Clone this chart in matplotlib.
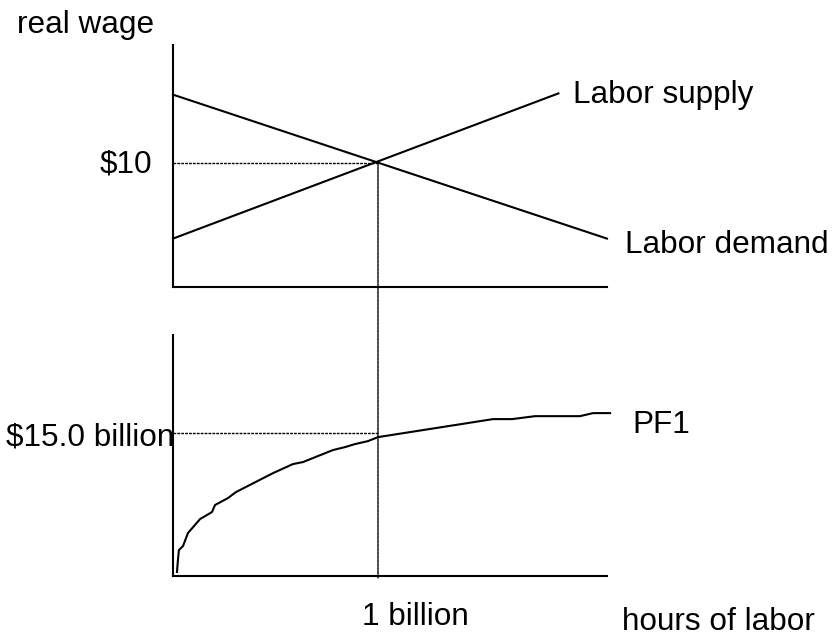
import matplotlib
matplotlib.use("Agg")
import matplotlib.pyplot as plt
from matplotlib.patches import ConnectionPatch

# ---- data (hours in billions, wage in $, output in $ billions) ----
x_max = 2.117
demand_x = [0.0, 2.117]
demand_y = [15.5, 3.9]
supply_x = [0.0, 1.88]
supply_y = [3.9, 15.6]
eq_hours = 1.0
eq_wage = 10.0
eq_output = 15.0

pf_x = [0.0195, 0.024, 0.029, 0.049, 0.073, 0.132, 0.190, 0.205, 0.268, 0.307,
        0.488, 0.585, 0.634, 0.780, 0.839, 0.888, 0.951, 1.0, 1.561, 1.654,
        1.766, 1.985, 2.049, 2.132]
pf_y = [0.42, 1.68, 2.73, 3.15, 4.51, 5.98, 6.71, 7.45, 8.18, 8.81,
        10.80, 11.75, 11.96, 13.22, 13.53, 13.85, 14.16, 14.58, 16.47, 16.47,
        16.78, 16.78, 17.10, 17.10]

plt.rcParams['font.family'] = ['Liberation Sans', 'DejaVu Sans']
FS = 22.7
W, H = 832, 638

fig = plt.figure(figsize=(W / 100, H / 100), dpi=100)

def px_rect(l, t, r, b):
    return [l / W, 1 - b / H, (r - l) / W, (b - t) / H]

ax1 = fig.add_axes(px_rect(173, 45, 607, 287))
ax2 = fig.add_axes(px_rect(173, 335, 607, 576))

for ax in (ax1, ax2):
    for s in ('top', 'right'):
        ax.spines[s].set_visible(False)
    for s in ('left', 'bottom'):
        ax.spines[s].set_linewidth(1.5)
    ax.set_xticks([])
    ax.set_yticks([])
    ax.set_xlim(0, x_max)

ax1.set_ylim(0, 19.5)
ax2.set_ylim(0, 25.3)

lw = 1.5
dash = (0, (2, 0.8))
ax1.plot(demand_x, demand_y, color='black', lw=lw, clip_on=False)
ax1.plot(supply_x, supply_y, color='black', lw=lw, clip_on=False)
ax1.plot([0, eq_hours], [eq_wage, eq_wage], color='black', lw=1.0,
         linestyle=dash)

ax2.plot(pf_x, pf_y, color='black', lw=lw, clip_on=False)
ax2.plot([0, eq_hours], [eq_output, eq_output], color='black', lw=1.0,
         linestyle=dash)

con = ConnectionPatch(xyA=(eq_hours, eq_wage), coordsA=ax1.transData,
                      xyB=(eq_hours, -0.25), coordsB=ax2.transData,
                      color='black', lw=1.0, linestyle=dash)
fig.add_artist(con)

def ftext(x, y, s, ha='left'):
    fig.text(x / W, 1 - y / H, s, ha=ha, va='baseline', fontsize=FS)

ftext(17, 33, "real wage")
ftext(573, 103, "Labor supply")
ftext(625, 253, "Labor demand")
ftext(152, 172, "$10", ha='right')
ftext(174, 445, "$15.0 billion", ha='right')
ftext(632, 433, "PF1")
ftext(362, 625, "1 billion")
ftext(622, 630, "hours of labor")

fig.savefig("out.png", dpi=100)
